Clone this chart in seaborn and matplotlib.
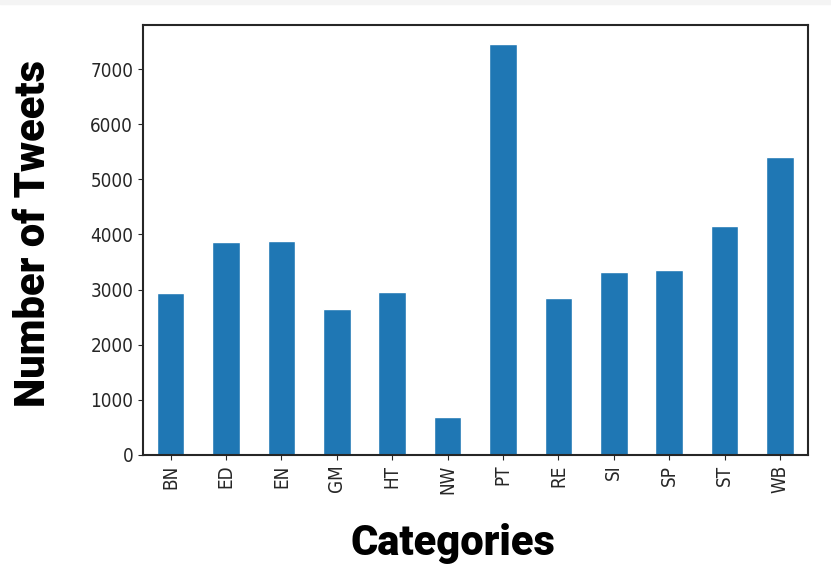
import matplotlib
matplotlib.use('Agg')
import matplotlib.pyplot as plt
import seaborn as sns
import pandas as pd
from matplotlib.patches import Rectangle

# Tweets per category
categorias = ['BN', 'ED', 'EN', 'GM', 'HT', 'NW', 'PT', 'RE', 'SI', 'SP', 'ST', 'WB']
tweets = [2930, 3860, 3890, 2640, 2960, 695, 7450, 2855, 3325, 3360, 4145, 5405]

df = pd.DataFrame({'category': categorias, 'tweets': tweets})

sns.set_style('ticks')
plt.rcParams['font.family'] = ['DejaVu Sans']

fig = plt.figure(figsize=(8.31, 5.81), dpi=100)
ax = fig.add_axes([0.172, 0.217, 0.8, 0.74])

sns.barplot(data=df, x='category', y='tweets', color='#1f77b4',
            saturation=1, width=0.5, ax=ax)

ax.set_xlim(-0.5, len(categorias) - 0.5)
ax.set_ylim(0, 7800)
ax.set_yticks(range(0, 8000, 1000))
ax.tick_params(axis='x', rotation=90, labelsize=13.5)
ax.tick_params(axis='y', labelsize=13.5)
for lbl in ax.get_xticklabels() + ax.get_yticklabels():
    lbl.set_fontstretch('condensed')
for s in ax.spines.values():
    s.set_visible(True)
    s.set_linewidth(1.5)

lab_font = dict(fontsize=30, fontweight='black', color='black',
                family=['Roboto', 'DejaVu Sans'])
ax.set_xlabel('Categories', labelpad=21, **lab_font)
ax.set_ylabel('Number of Tweets', labelpad=26, **lab_font)
ax.xaxis.label.set_x(0.466)
ax.yaxis.label.set_y(0.515)

# thin grey band along the top edge
fig.add_artist(Rectangle((0, 0.993), 1, 0.007, transform=fig.transFigure,
                         color='#f4f4f4', zorder=-1))

fig.savefig('out.png', dpi=100)
